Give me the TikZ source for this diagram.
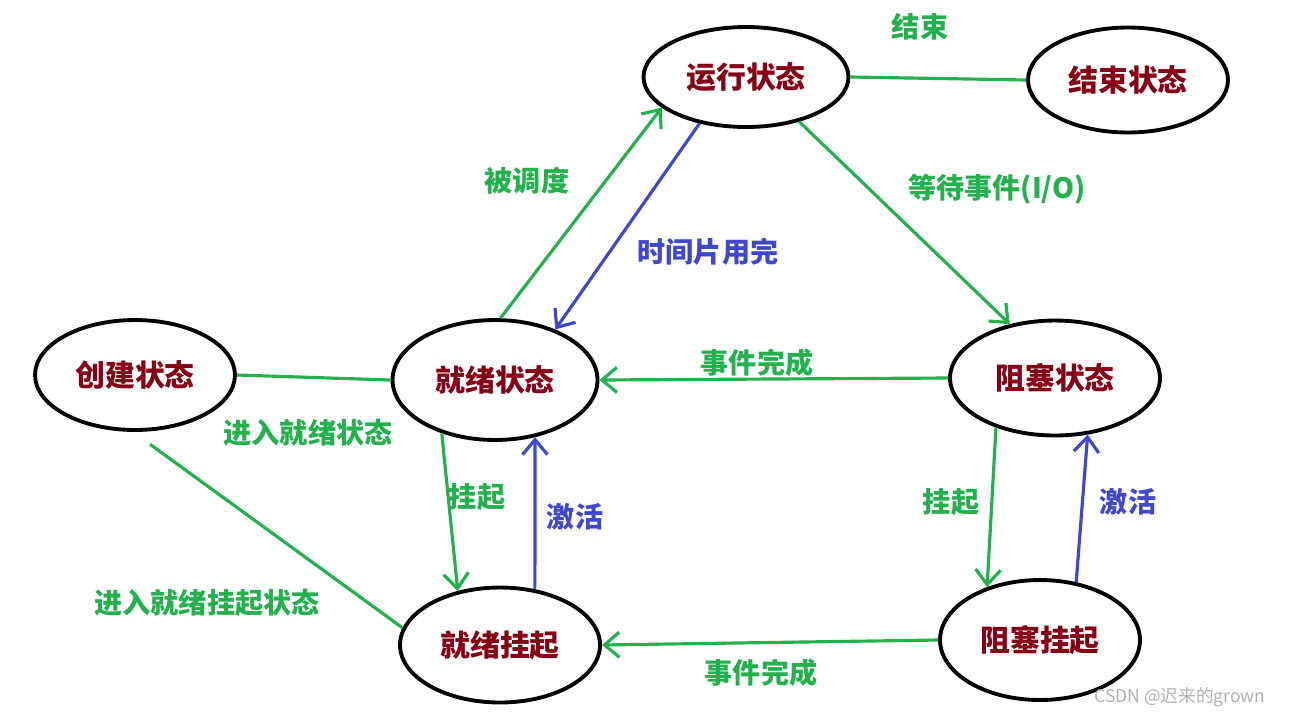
\documentclass[tikz,border=0pt]{standalone}
\usepackage{fontspec}
\newfontfamily\cjk{Noto Sans CJK SC}
\usetikzlibrary{shapes.geometric,arrows.meta}
\definecolor{gr}{HTML}{22B14C}
\definecolor{bl}{HTML}{3F48CC}
\definecolor{dr}{HTML}{880015}
\begin{document}
\begin{tikzpicture}[x=0.02cm,y=-0.02cm,
 st/.style={ellipse,draw=black,line width=2.2pt,minimum width=#1,font=\cjk\bfseries\fontsize{17}{20}\selectfont,text=dr},
 st/.default={4cm},
 ge/.style={draw=gr,line width=1.8pt},
 be/.style={draw=bl,line width=1.8pt},
 arr/.style={-{Straight Barb[length=3mm,width=5mm]}},
 gl/.style={text=gr,font=\cjk\bfseries\fontsize{16}{19}\selectfont},
 bll/.style={text=bl,font=\cjk\bfseries\fontsize{16}{19}\selectfont}]
\fill[white] (0,0) rectangle (1290,721);
\node[st,minimum width=4.1cm,minimum height=2.0cm] (run) at (746,77) {运行状态};
\node[st,minimum width=4.0cm,minimum height=2.1cm] (end) at (1128,80) {结束状态};
\node[st,minimum width=4.0cm,minimum height=2.2cm] (cre) at (135,375) {创建状态};
\node[st,minimum width=4.1cm,minimum height=2.4cm] (rdy) at (495,380) {就绪状态};
\node[st,minimum width=4.2cm,minimum height=2.3cm] (blk) at (1055,378) {阻塞状态};
\node[st,minimum width=4.0cm,minimum height=2.3cm] (rs) at (500,645) {就绪挂起};
\node[st,minimum width=4.0cm,minimum height=2.4cm] (bs) at (1040,640) {阻塞挂起};
\draw[ge] (run.east) -- (end.west);
\node[gl] (l1) at (920,27) {结束};
\draw[ge,arr] (rdy.85) -- (run.200);
\node[gl] (l2) at (527,181) {被调度};
\draw[be,arr] (run.225) -- (rdy.40);
\node[bll] (l3) at (708,252) {时间片用完};
\draw[ge,arr] (run.320) -- (blk.130);
\node[gl] (l4) at (997,189) {等待事件(I/O)};
\draw[ge,arr] (blk.west) -- (rdy.east);
\node[gl] (l5) at (757,363) {事件完成};
\draw[ge] (cre.east) -- (rdy.west);
\node[gl] (l6) at (308,433) {进入就绪状态};
\draw[ge,arr] (rdy.225) -- (rs.128);
\node[gl] (l7) at (477,497) {挂起};
\draw[be,arr] (rs.58) -- (rdy.305);
\node[bll] (l8) at (575,517) {激活};
\draw[ge,shorten <=12pt] (cre.268) -- (rs.170);
\node[gl] (l9) at (207,603) {进入就绪挂起状态};
\draw[ge,arr] (blk.220) -- (bs.135);
\node[gl] (l10) at (951,502) {挂起};
\draw[be,arr] (bs.58) -- (blk.300);
\node[bll] (l11) at (1128,502) {激活};
\draw[ge,arr] (bs.west) -- (rs.east);
\node[gl] (l12) at (761,673) {事件完成};
\node[text=gray!60,font=\cjk\fontsize{10}{12}\selectfont] (wm) at (1180,697) {CSDN @迟来的grown};
\end{tikzpicture}
\end{document}
